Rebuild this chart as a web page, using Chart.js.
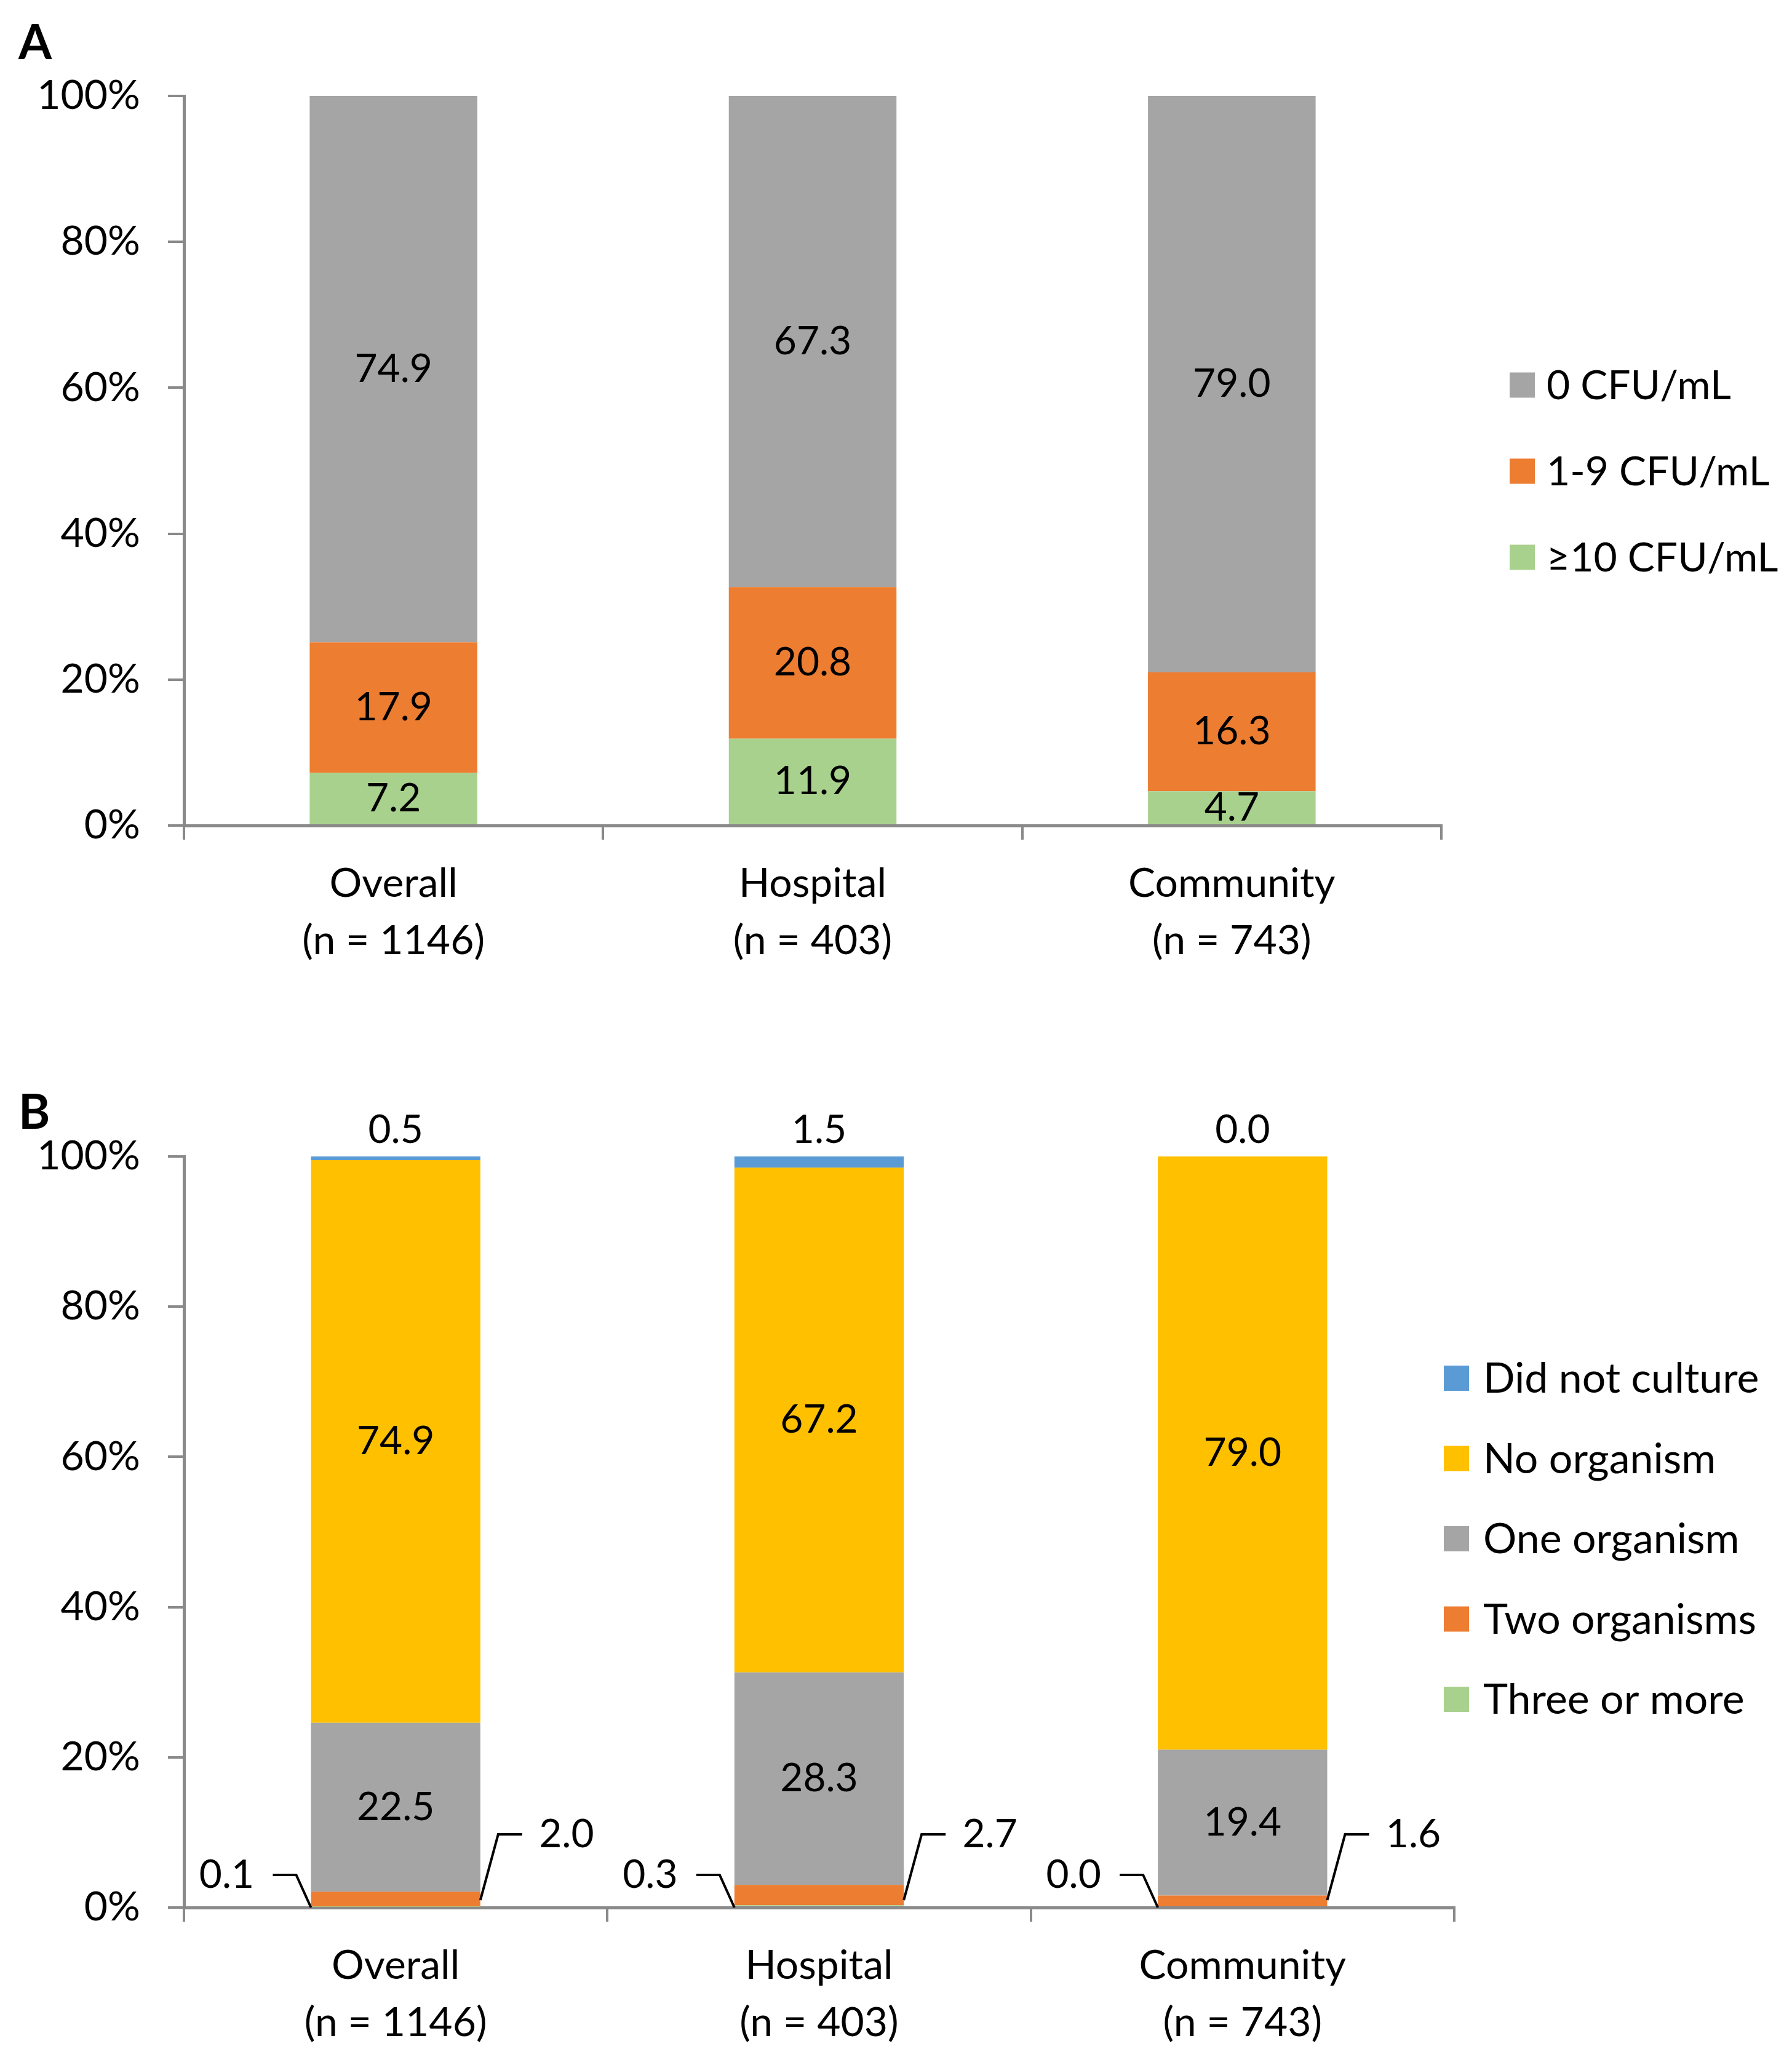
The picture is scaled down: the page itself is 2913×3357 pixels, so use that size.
<!DOCTYPE html>
<html>
<head>
<meta charset="utf-8">
<script src="https://cdn.jsdelivr.net/npm/chart.js@4.4.1/dist/chart.umd.min.js"></script>
<style>
  html, body { margin: 0; padding: 0; background: #fff; }
  body { width: 2913px; height: 3357px; position: relative; overflow: hidden; }
  canvas { position: absolute; left: 0; }
  #chartA { top: 0; width: 2913px; height: 1680px; }
  #chartB { top: 1680px; width: 2913px; height: 1677px; }
</style>
</head>
<body>
<canvas id="chartA" width="2913" height="1680"></canvas>
<canvas id="chartB" width="2913" height="1677"></canvas>
<script>
const categories = [["Overall", "(n = 1146)"], ["Hospital", "(n = 403)"], ["Community", "(n = 743)"]];
const yTicks = [0, 20, 40, 60, 80, 100];

// panel A, bottom to top
const cfu10 = [7.2, 11.9, 4.7];
const cfu1to9 = [17.9, 20.8, 16.3];
const cfu0 = [74.9, 67.3, 79.0];

// panel B, bottom to top
const threeOrMore = [0.1, 0.3, 0.0];
const twoOrganisms = [2.0, 2.7, 1.6];
const oneOrganism = [22.5, 28.3, 19.4];
const noOrganism = [74.9, 67.2, 79.0];
const didNotCulture = [0.5, 1.5, 0.0];

const GREY = '#A5A5A5', ORANGE = '#ED7D31', GREEN = '#A9D18E', BLUE = '#5B9BD5', YELLOW = '#FFC000';
const AXIS = '#898989';

Chart.defaults.font.family = 'Lato';
Chart.defaults.color = '#000';

/* --- value labels, with leader lines for the thin segments --- */
const barLabels = {
  id: 'barLabels',
  afterDatasetsDraw(chart, args, opts) {
    const ctx = chart.ctx;
    const axisY = chart.scales.y.getPixelForValue(0);
    ctx.save();
    ctx.font = '64px Lato';
    ctx.fillStyle = '#000';
    ctx.strokeStyle = '#000';
    ctx.lineWidth = 4;
    ctx.textAlign = 'center';
    ctx.textBaseline = 'middle';
    chart.data.datasets.forEach((ds, i) => {
      const mode = opts.modes[i];
      chart.getDatasetMeta(i).data.forEach((bar, j) => {
        const p = bar.getProps(['x', 'y', 'base', 'width'], true);
        const txt = ds.data[j].toFixed(1);
        const left = p.x - p.width / 2;
        const right = p.x + p.width / 2;
        if (mode === 'center') {
          ctx.fillText(txt, p.x, (p.y + p.base) / 2);
        } else if (mode === 'top') {
          ctx.fillText(txt, p.x, p.y - 43);
        } else if (mode === 'left') {
          const ly = axisY - 53;
          ctx.beginPath();
          ctx.moveTo(left, axisY);
          ctx.lineTo(left - 24, ly);
          ctx.lineTo(left - 62, ly);
          ctx.stroke();
          ctx.fillText(txt, left - 137, ly);
        } else if (mode === 'right') {
          const ly = axisY - 119;
          ctx.beginPath();
          ctx.moveTo(right, axisY - 12);
          ctx.lineTo(right + 29, ly);
          ctx.lineTo(right + 68, ly);
          ctx.stroke();
          ctx.fillText(txt, right + 140, ly);
        }
      });
    });
    ctx.restore();
  }
};

/* --- legend on the right, top dataset first --- */
const sideLegend = {
  id: 'sideLegend',
  afterDraw(chart, args, opts) {
    const ctx = chart.ctx;
    const area = chart.chartArea;
    const items = chart.data.datasets.map(ds => ({ label: ds.label, color: ds.backgroundColor })).reverse();
    const mid = (area.top + area.bottom) / 2 + opts.shiftY;
    const y0 = mid - (items.length - 1) / 2 * opts.spacing;
    const bx = area.right + opts.shiftX;
    ctx.save();
    ctx.font = opts.size + 'px Lato';
    ctx.textBaseline = 'middle';
    ctx.textAlign = 'left';
    items.forEach((it, k) => {
      const cy = y0 + k * opts.spacing;
      ctx.fillStyle = it.color;
      ctx.fillRect(bx, cy - opts.box / 2, opts.box, opts.box);
      ctx.fillStyle = '#000';
      ctx.fillText(it.label, bx + opts.box + opts.gap, cy + 2);
    });
    ctx.restore();
  }
};

/* --- panel letter --- */
const panelLetter = {
  id: 'panelLetter',
  afterDraw(chart, args, opts) {
    const ctx = chart.ctx;
    ctx.save();
    ctx.font = 'bold 78px Lato';
    ctx.fillStyle = '#000';
    ctx.textAlign = 'left';
    ctx.textBaseline = 'alphabetic';
    ctx.fillText(opts.text, 30, opts.baseline);
    ctx.restore();
  }
};

function makeChart(id, datasets, o) {
  return new Chart(document.getElementById(id), {
    type: 'bar',
    data: { labels: categories, datasets },
    plugins: [barLabels, sideLegend, panelLetter],
    options: {
      responsive: false,
      animation: false,
      devicePixelRatio: 1,
      layout: { padding: { top: o.top, right: o.right, left: 0, bottom: 0 } },
      datasets: { bar: { categoryPercentage: 1, barPercentage: 0.4, borderWidth: 0 } },
      scales: {
        x: {
          stacked: true,
          grid: { offset: true, drawOnChartArea: false, tickLength: 23, color: AXIS, lineWidth: 4 },
          border: { color: AXIS, width: 5 },
          ticks: { font: { size: 66, lineHeight: 1.4 }, padding: 26, color: '#000', maxRotation: 0 },
          afterFit: s => { s.height = o.xHeight; }
        },
        y: {
          stacked: true,
          min: 0,
          max: 100,
          afterBuildTicks: s => { s.ticks = yTicks.map(v => ({ value: v })); },
          grid: { drawOnChartArea: false, tickLength: 26, color: AXIS, lineWidth: 4 },
          border: { color: AXIS, width: 5 },
          ticks: { font: { size: 66 }, padding: 45, color: '#000', callback: v => v + '%' },
          afterFit: s => { s.width = 299; }
        }
      },
      plugins: {
        legend: { display: false },
        tooltip: { enabled: false },
        barLabels: { modes: o.modes },
        sideLegend: o.legend,
        panelLetter: o.letter
      }
    }
  });
}

makeChart('chartA', [
  { label: '\u226510 CFU/mL', data: cfu10, backgroundColor: GREEN },
  { label: '1-9 CFU/mL', data: cfu1to9, backgroundColor: ORANGE },
  { label: '0 CFU/mL', data: cfu0, backgroundColor: GREY }
], {
  top: 156, right: 570, xHeight: 338,
  modes: ['center', 'center', 'center'],
  legend: { shiftX: 111, shiftY: 17, spacing: 140, box: 41, gap: 19, size: 66 },
  letter: { text: 'A', baseline: 96 }
});

makeChart('chartB', [
  { label: 'Three or more', data: threeOrMore, backgroundColor: GREEN },
  { label: 'Two organisms', data: twoOrganisms, backgroundColor: ORANGE },
  { label: 'One organism', data: oneOrganism, backgroundColor: GREY },
  { label: 'No organism', data: noOrganism, backgroundColor: YELLOW },
  { label: 'Did not culture', data: didNotCulture, backgroundColor: BLUE }
], {
  top: 200, right: 549, xHeight: 256,
  modes: ['left', 'right', 'center', 'center', 'top'],
  legend: { shiftX: -17, shiftY: 11, spacing: 130.5, box: 41, gap: 23, size: 68 },
  letter: { text: 'B', baseline: 155 }
});
</script>
</body>
</html>
